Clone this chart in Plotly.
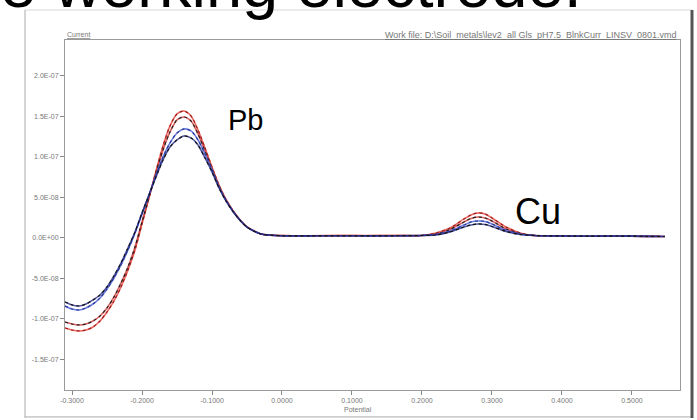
import plotly.graph_objects as go

# Potential (V)
potential = [-0.31, -0.30, -0.29, -0.28, -0.27, -0.26, -0.25, -0.24, -0.23, -0.22,
             -0.21, -0.20, -0.19, -0.18, -0.17, -0.16, -0.15, -0.14, -0.13, -0.12,
             -0.11, -0.10, -0.09, -0.08, -0.07, -0.06, -0.05, -0.04, -0.03, -0.02,
             0.00, 0.04, 0.08, 0.12, 0.16, 0.20, 0.22, 0.24, 0.26, 0.27, 0.28,
             0.29, 0.30, 0.32, 0.34, 0.36, 0.40, 0.44, 0.48, 0.52, 0.547]

# Current, in units of 1e-8 A
curr_a = [-11.11, -11.36, -11.48, -11.36, -10.99, -10.25, -9.14, -7.78, -6.05, -3.95,
          -1.48, 1.73, 4.94, 8.27, 11.36, 13.83, 15.31, 15.68, 15.06, 13.33,
          11.11, 8.77, 6.54, 4.75, 3.36, 2.25, 1.38, 0.88, 0.49, 0.37,
          0.30, 0.28, 0.30, 0.29, 0.30, 0.31, 0.62, 1.23, 2.35, 2.84, 3.09,
          2.96, 2.47, 1.36, 0.62, 0.31, 0.25, 0.22, 0.25, 0.20, 0.18]
curr_b = [-10.37, -10.62, -10.74, -10.62, -10.25, -9.63, -8.64, -7.28, -5.56, -3.58,
          -1.11, 1.98, 5.06, 8.02, 10.86, 13.09, 14.57, 14.94, 14.44, 12.84,
          10.74, 8.52, 6.42, 4.69, 3.33, 2.22, 1.36, 0.86, 0.49, 0.37,
          0.29, 0.27, 0.29, 0.28, 0.29, 0.31, 0.49, 1.05, 1.98, 2.41, 2.59,
          2.47, 2.10, 1.11, 0.56, 0.31, 0.25, 0.22, 0.24, 0.20, 0.18]
curr_c = [-8.40, -8.77, -8.89, -8.64, -8.15, -7.41, -6.30, -4.94, -3.33, -1.48,
          0.62, 2.96, 5.31, 7.78, 10.00, 11.73, 12.96, 13.46, 13.21, 12.10,
          10.37, 8.40, 6.30, 4.63, 3.30, 2.20, 1.34, 0.85, 0.49, 0.37,
          0.28, 0.27, 0.28, 0.27, 0.28, 0.31, 0.43, 0.86, 1.60, 1.98, 2.10,
          2.04, 1.73, 0.93, 0.49, 0.31, 0.25, 0.22, 0.24, 0.20, 0.18]
curr_d = [-7.90, -8.27, -8.40, -8.15, -7.65, -7.04, -6.05, -4.69, -3.09, -1.23,
          0.74, 3.09, 5.31, 7.53, 9.63, 11.23, 12.10, 12.59, 12.35, 11.48,
          9.88, 8.15, 6.17, 4.57, 3.27, 2.18, 1.33, 0.84, 0.49, 0.37,
          0.27, 0.26, 0.27, 0.26, 0.27, 0.31, 0.37, 0.74, 1.36, 1.60, 1.73,
          1.67, 1.42, 0.80, 0.43, 0.31, 0.25, 0.22, 0.24, 0.20, 0.18]

y_tick_vals = [-1.5e-7, -1.0e-7, -5.0e-8, 0.0, 5.0e-8, 1.0e-7, 1.5e-7, 2.0e-7]
y_tick_text = ["-1.5E-07", "-1.0E-07", "-5.0E-08", "0.0E+00", "5.0E-08", "1.0E-07", "1.5E-07", "2.0E-07"]
x_tick_vals = [-0.3, -0.2, -0.1, 0.0, 0.1, 0.2, 0.3, 0.4, 0.5]
x_tick_text = ["-0.3000", "-0.2000", "-0.1000", "0.0000", "0.1000", "0.2000", "0.3000", "0.4000", "0.5000"]

series = [
    ("A", curr_a, "#e8443a", "#a02020"),
    ("B", curr_b, "#d03838", "#222222"),
    ("C", curr_c, "#4a5fd8", "#2a3a9a"),
    ("D", curr_d, "#2a2f8a", "#111111"),
]

fig = go.Figure()
for name, vals, col, dotcol in series:
    yv = [v * 1e-8 for v in vals]
    fig.add_trace(go.Scatter(x=potential, y=yv, mode="lines", name=name,
                             line=dict(color=col, width=1.6, shape="spline", smoothing=0.8),
                             opacity=0.8, showlegend=False, hoverinfo="skip"))
    fig.add_trace(go.Scatter(x=potential, y=yv, mode="lines", name=name + " dots",
                             line=dict(color=dotcol, width=1.2, dash="dot", shape="spline", smoothing=0.8),
                             showlegend=False, hoverinfo="skip"))

tickfont = dict(family="Liberation Sans, Arial, sans-serif", size=7, color="#777777")

fig.update_layout(
    width=697, height=420,
    margin=dict(l=65, r=17, t=40, b=30),
    paper_bgcolor="white", plot_bgcolor="white",
    xaxis=dict(range=[-0.31, 0.5686], tickvals=x_tick_vals, ticktext=x_tick_text,
               showgrid=False, zeroline=False, showline=True, linecolor="#9a9a9a",
               linewidth=1, mirror=True, ticks="outside", ticklen=4, tickcolor="#888888",
               tickfont=tickfont),
    yaxis=dict(range=[-1.877e-7, 2.444e-7], tickvals=y_tick_vals, ticktext=y_tick_text,
               showgrid=False, zeroline=False, showline=True, linecolor="#9a9a9a",
               linewidth=1, mirror=True, ticks="outside", ticklen=4, tickcolor="#888888",
               tickfont=tickfont),
    shapes=[
        dict(type="line", xref="paper", yref="paper", x0=-0.065, x1=1.0195, y0=1.0857, y1=1.0857,
             line=dict(color="#d8d8d8", width=1)),
        dict(type="line", xref="paper", yref="paper", x0=-0.065, x1=-0.065, y0=-0.08, y1=1.0857,
             line=dict(color="#aaaaaa", width=1)),
        dict(type="line", xref="paper", yref="paper", x0=-0.065, x1=1.0195, y0=-0.077, y1=-0.077,
             line=dict(color="#aaaaaa", width=1)),
        dict(type="line", xref="paper", yref="paper", x0=1.0195, x1=1.0195, y0=-0.08, y1=1.0857,
             line=dict(color="#555555", width=3)),
    ],
    annotations=[
        dict(text="e working electrode.", xref="paper", yref="paper", x=-0.107, y=1.0514,
             xanchor="left", yanchor="bottom", showarrow=False, borderpad=0,
             font=dict(family="Liberation Sans, Arial, sans-serif", size=65, color="black")),
        dict(text="Pb", xref="paper", yref="paper", x=0.2927, y=0.7714,
             xanchor="center", yanchor="middle", showarrow=False,
             font=dict(family="Liberation Sans, Arial, sans-serif", size=29, color="black")),
        dict(text="Cu", xref="paper", yref="paper", x=0.769, y=0.5114,
             xanchor="center", yanchor="middle", showarrow=False,
             font=dict(family="Liberation Sans, Arial, sans-serif", size=36, color="black")),
        dict(text="<u>Current</u>", xref="paper", yref="paper", x=0.0, y=1.0143,
             xanchor="left", yanchor="middle", showarrow=False,
             font=dict(family="Liberation Sans, Arial, sans-serif", size=7, color="#777777")),
        dict(text="<u>Work file: D:\\Soil_metals\\lev2_all Gls_pH7.5_BlnkCurr_LINSV_0801.vmd</u>",
             xref="paper", yref="paper", x=0.9967, y=1.0143,
             xanchor="right", yanchor="middle", showarrow=False,
             font=dict(family="Liberation Sans, Arial, sans-serif", size=9, color="#777777")),
        dict(text="Potential", xref="paper", yref="paper", x=0.476, y=-0.057,
             xanchor="center", yanchor="middle", showarrow=False,
             font=dict(family="Liberation Sans, Arial, sans-serif", size=7, color="#777777")),
    ],
)

fig.write_html("out.html")
